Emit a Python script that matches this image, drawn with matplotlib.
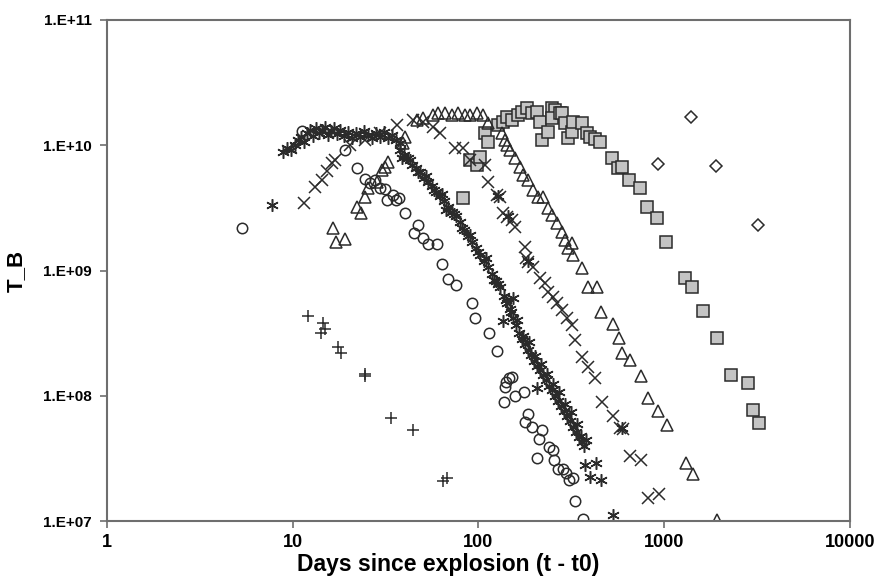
import numpy as np
import matplotlib.pyplot as plt
from matplotlib.ticker import FixedLocator, FixedFormatter

plt.rcParams['font.family'] = ['Liberation Sans', 'DejaVu Sans']

# diamonds
dia_t = [925, 1393, 1900, 3197]
dia_tb = [7.08e9, 1.68e10, 6.83e9, 2.31e9]

# grey squares
sq_t = [82.5, 90.0, 98.2, 102, 108, 112, 127, 136, 142, 151, 163, 172, 182, 194, 207, 214,
        220, 237, 249, 258, 249, 275, 281, 292, 303, 319, 323, 361, 384, 398, 424, 451,
        523, 564, 593, 646, 740, 807, 914, 1022, 1294, 1410, 1617, 1923, 2287, 2825,
        3004, 3236]
sq_tb = [3.79e9, 7.63e9, 6.96e9, 8.06e9, 1.25e10, 1.06e10, 1.45e10, 1.53e10, 1.68e10,
         1.59e10, 1.74e10, 1.84e10, 1.98e10, 1.81e10, 1.84e10, 1.53e10, 1.10e10, 1.28e10,
         1.98e10, 1.91e10, 1.65e10, 1.81e10, 1.81e10, 1.51e10, 1.14e10, 1.28e10, 1.53e10,
         1.51e10, 1.25e10, 1.16e10, 1.12e10, 1.06e10, 7.91e9, 6.58e9, 6.71e9, 5.28e9,
         4.56e9, 3.21e9, 2.63e9, 1.69e9, 8.71e8, 7.38e8, 4.75e8, 2.89e8, 1.47e8, 1.26e8,
         7.69e7, 6.06e7]

# triangles
tri_t = [16.5, 17.1, 19.1, 22.2, 23.3, 24.5, 25.4, 28.4, 30.2, 31.4, 32.6, 39.2, 40.2,
         46.7, 50.3, 56.9, 60.5, 66.0, 72.0, 77.6, 84.6, 90.0, 98.2, 106, 112, 134, 139,
         142, 148, 157, 167, 174, 185, 197, 209, 223, 237, 249, 265, 281, 292, 319, 303,
         323, 361, 389, 435, 456, 530, 571, 593, 654, 750, 817, 925, 1035, 1309, 1428, 1923]
tri_tb = [2.18e9, 1.69e9, 1.78e9, 3.21e9, 2.88e9, 3.86e9, 4.56e9, 5.09e9, 6.35e9, 6.71e9,
          7.35e9, 1.04e10, 1.16e10, 1.59e10, 1.65e10, 1.74e10, 1.81e10, 1.81e10, 1.74e10,
          1.81e10, 1.74e10, 1.74e10, 1.81e10, 1.74e10, 1.51e10, 1.25e10, 1.10e10, 1.0e10,
          9.16e9, 7.91e9, 6.71e9, 5.79e9, 5.28e9, 4.40e9, 3.86e9, 3.86e9, 3.16e9, 2.77e9,
          2.40e9, 2.03e9, 1.75e9, 1.66e9, 1.51e9, 1.33e9, 1.05e9, 7.38e8, 7.38e8, 4.66e8,
          3.74e8, 2.89e8, 2.19e8, 1.93e8, 1.44e8, 9.59e7, 7.55e7, 5.84e7, 2.90e7, 2.37e7,
          1.02e7]

# crosses
x_t = [11.5, 13.2, 14.4, 15.3, 16.3, 16.9, 20.3, 24.5, 29.5, 36.4, 44.4, 50.3, 56.9, 62.1,
       74.7, 82.5, 90.0, 108, 112, 126, 131, 136, 142, 151, 157, 178, 180, 185, 197, 214,
       228, 237, 252, 265, 281, 300, 319, 331, 361, 389, 424, 461, 530, 578, 600, 654,
       750, 817, 935]
x_tb = [3.46e9, 4.64e9, 5.28e9, 6.23e9, 7.22e9, 7.63e9, 1.0e10, 1.10e10, 1.25e10, 1.45e10,
        1.59e10, 1.53e10, 1.40e10, 1.25e10, 9.5e9, 9.5e9, 7.63e9, 6.96e9, 5.09e9, 4.0e9,
        3.86e9, 2.88e9, 2.67e9, 2.53e9, 2.22e9, 1.54e9, 1.26e9, 1.17e9, 1.07e9, 8.71e8,
        7.94e8, 6.8e8, 6.1e8, 5.5e8, 4.84e8, 4.2e8, 3.67e8, 2.79e8, 2.04e8, 1.7e8, 1.39e8,
        8.9e7, 6.9e7, 5.5e7, 5.4e7, 3.3e7, 3.07e7, 1.53e7, 1.64e7]

# asterisks (dense series)
ast_t = [7.73, 8.86, 9.31, 9.79, 10.28, 10.67, 11.08, 11.50, 11.93, 12.39, 12.85, 13.34,
         13.85, 14.37, 14.92, 15.48, 16.07, 16.68, 17.31, 17.96, 18.88, 19.84, 20.84, 21.90,
         23.01, 24.19, 25.42, 26.71, 28.07, 29.49, 30.99, 32.57, 34.22, 35.97, 37.79,
         37.79, 39.71, 41.73, 43.85, 46.08, 48.42, 50.88, 53.47, 56.19, 59.04, 62.04, 65.20,
         68.51, 71.99, 75.66, 79.50, 83.54, 87.79, 92.25, 96.94, 101.9, 107.1, 112.5, 118.2,
         124.2, 130.5, 137.2, 142.3, 147.8, 153.4, 159.2, 165.2, 171.5, 178.0, 184.7, 191.7,
         199.0, 206.5, 214.3, 222.5, 230.9, 239.7, 248.8, 258.1, 267.9, 278.0, 288.6, 299.5,
         310.8, 322.6, 334.8, 347.5, 360.7, 369.8,
         38.7, 42.8, 47.2, 52.2, 57.6, 63.6, 66.8, 73.8, 81.5, 90.0, 99.4, 110, 121, 127,
         141, 150, 161, 174, 187, 201, 217, 234, 252, 271, 292, 315, 339, 356, 379,
         128, 145, 185, 590, 206, 153, 136, 374.5, 398.5, 429.1, 456.5, 529.9]
ast_tb = [3.34e9, 8.83e9, 9.51e9, 9.16e9, 1.00e10, 1.10e10, 1.16e10, 1.06e10, 1.25e10,
          1.32e10, 1.19e10, 1.37e10, 1.25e10, 1.32e10, 1.40e10, 1.21e10, 1.30e10, 1.37e10,
          1.23e10, 1.32e10, 1.19e10, 1.28e10, 1.14e10, 1.25e10, 1.16e10, 1.30e10, 1.21e10,
          1.14e10, 1.25e10, 1.16e10, 1.28e10, 1.14e10, 1.21e10, 1.10e10, 1.04e10,
          9.16e9, 8.36e9, 7.91e9, 6.96e9, 6.58e9, 6.11e9, 5.48e9, 5.09e9, 4.73e9, 4.24e9,
          3.94e9, 3.59e9, 3.21e9, 2.93e9, 2.72e9, 2.44e9, 2.10e9, 1.88e9, 1.69e9, 1.51e9,
          1.33e9, 1.19e9, 1.07e9, 9.38e8, 8.24e8, 7.38e8, 6.25e8, 5.50e8, 4.93e8, 4.18e8,
          3.67e8, 3.17e8, 2.84e8, 2.59e8, 2.32e8, 2.11e8, 1.89e8, 1.73e8, 1.61e8, 1.47e8,
          1.34e8, 1.20e8, 1.11e8, 9.95e7, 9.08e7, 8.28e7, 7.55e7, 6.89e7, 6.28e7, 5.62e7,
          5.13e7, 4.68e7, 4.27e7, 3.97e7,
          7.91e9, 7.63e9, 6.11e9, 5.68e9, 4.40e9, 4.08e9, 3.04e9, 2.83e9, 2.18e9, 1.92e9,
          1.41e9, 1.26e9, 8.4e8, 7.80e8, 5.81e8, 4.66e8, 4.03e8, 3.0e8, 2.69e8, 2.08e8,
          1.79e8, 1.49e8, 1.24e8, 1.07e8, 8.59e7, 7.41e7, 5.96e7, 4.77e7, 4.43e7,
          3.9e9, 2.7e9, 1.2e9, 5.5e7, 1.15e8, 6.0e8, 3.95e8, 2.80e7, 2.25e7, 2.90e7,
          2.12e7, 1.12e7]

# open circles
circ_t = [5.33, 11.2, 19.1, 22.2, 24.5, 26.1, 27.7, 29.5, 31.4, 32.2, 34.6, 36.0, 37.2,
          40.2, 47.2, 45.0, 50.3, 53.5, 59.8, 63.3, 68.4, 75.5, 92.0, 95.8, 114, 126, 151,
          146, 140, 139, 157, 176, 137, 185, 178, 194, 220, 212, 207, 240, 252, 255, 268,
          285, 296, 306, 323, 331, 365]
circ_tb = [2.18e9, 1.29e10, 9.16e9, 6.58e9, 5.38e9, 5.0e9, 5.28e9, 4.6e9, 4.5e9, 3.66e9,
           4.01e9, 3.66e9, 3.8e9, 2.9e9, 2.31e9, 1.98e9, 1.83e9, 1.62e9, 1.62e9, 1.13e9,
           8.6e8, 7.66e8, 5.5e8, 4.2e8, 3.2e8, 2.28e8, 1.42e8, 1.38e8, 1.29e8, 1.18e8,
           9.9e7, 1.08e8, 9.0e7, 7.2e7, 6.2e7, 5.6e7, 5.33e7, 4.5e7, 3.2e7, 3.9e7, 3.69e7,
           3.1e7, 2.62e7, 2.6e7, 2.4e7, 2.12e7, 2.2e7, 1.45e7, 1.04e7]

# plus signs
plus_t = [12.1, 14.6, 14.9, 14.2, 17.5, 18.2, 24.5, 24.5, 33.8, 44.4, 64.4, 67.7]
plus_tb = [4.33e8, 3.81e8, 3.43e8, 3.15e8, 2.46e8, 2.20e8, 1.45e8, 1.50e8, 6.6e7, 5.3e7,
           2.1e7, 2.2e7]

xticks = [1, 10, 100, 1000, 10000]
yticks = [1e7, 1e8, 1e9, 1e10, 1e11]
ylabels = ['1.E+07', '1.E+08', '1.E+09', '1.E+10', '1.E+11']

ec = '#2b2b2b'
fig = plt.figure(figsize=(8.79, 5.79), dpi=100)
ax = fig.add_axes([0.1217, 0.100, 0.8453, 0.8655])

ax.plot(dia_t, dia_tb, 'D', ms=6, mfc='none', mec=ec, mew=1.1, ls='none')
ax.plot(sq_t, sq_tb, 's', ms=8, mfc='#c4c4c4', mec=ec, mew=1.1, ls='none')
ax.plot(tri_t, tri_tb, '^', ms=8, mfc='none', mec=ec, mew=1.1, ls='none')
ax.plot(x_t, x_tb, 'x', ms=8, mec=ec, mew=1.1, ls='none')
ax.plot(ast_t, ast_tb, marker=(6, 2, 0), ms=9, mec=ec, mew=1.1, ls='none')
ax.plot(circ_t, circ_tb, 'o', ms=7.5, mfc='none', mec=ec, mew=1.1, ls='none')
ax.plot(plus_t, plus_tb, '+', ms=9, mec=ec, mew=1.1, ls='none')

ax.set_xscale('log')
ax.set_yscale('log')
ax.set_xlim(1, 10000)
ax.set_ylim(1e7, 1e11)
ax.xaxis.set_major_locator(FixedLocator(xticks))
ax.xaxis.set_major_formatter(FixedFormatter([str(v) for v in xticks]))
ax.yaxis.set_major_locator(FixedLocator(yticks))
ax.yaxis.set_major_formatter(FixedFormatter(ylabels))
ax.minorticks_off()

for s in ax.spines.values():
    s.set_color('#6e6e6e')
    s.set_linewidth(1.5)
ax.tick_params(axis='both', direction='out', length=5, width=1.2, color='#6e6e6e')
ax.tick_params(axis='x', labelsize=13, pad=4)
ax.tick_params(axis='y', labelsize=11, pad=6)
for lab in ax.get_xticklabels() + ax.get_yticklabels():
    lab.set_fontweight('bold')

ax.set_xlabel('Days since explosion (t - t0)', fontsize=16.5, fontweight='bold')
ax.xaxis.set_label_coords(0.459, -0.064)
ax.set_ylabel('T_B', fontsize=16, fontweight='bold')
ax.yaxis.set_label_coords(-0.108, 0.5)

fig.savefig('out.png', dpi=100)
